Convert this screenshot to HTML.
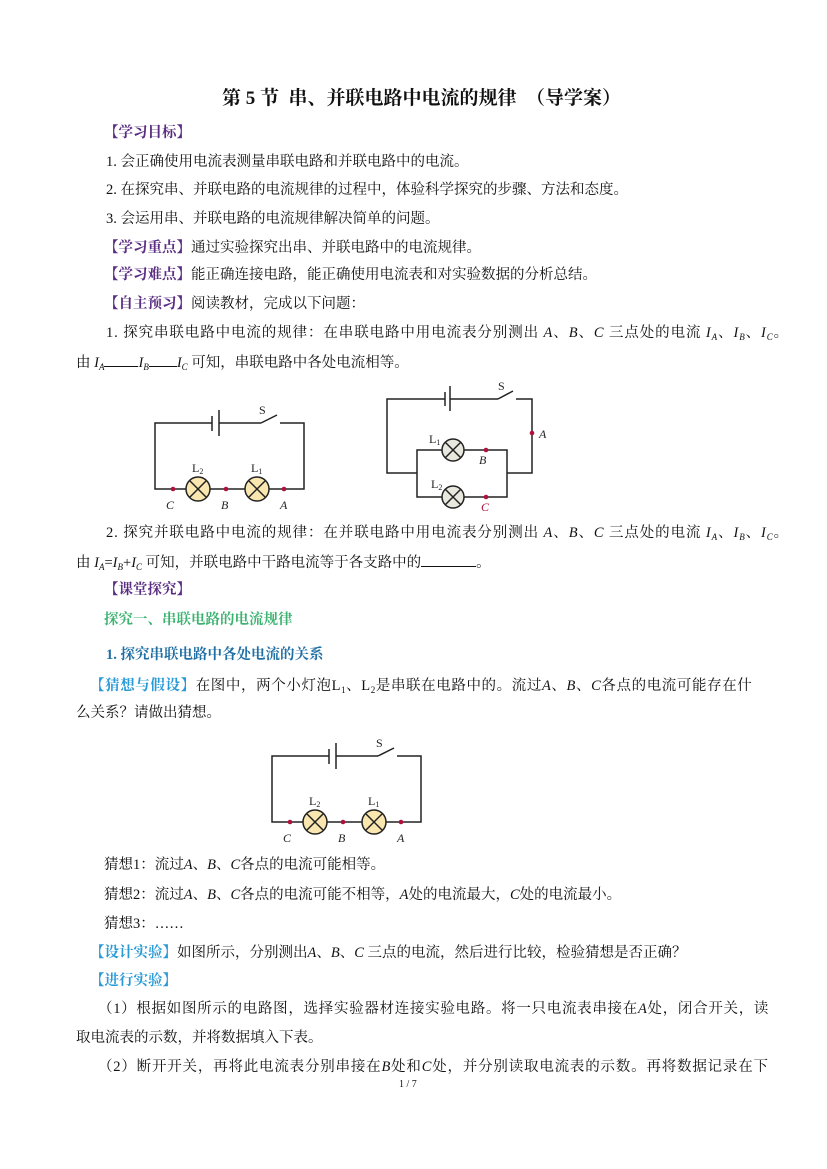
<!DOCTYPE html>
<html><head><meta charset="utf-8"><style>
html,body{margin:0;padding:0;background:#fff}
body{width:827px;height:1169px;position:relative;overflow:hidden;font-family:"Liberation Serif","Noto Serif CJK SC","Noto Sans CJK SC",serif;color:#111}
.l{position:absolute;font-size:14.5px;line-height:18px;white-space:nowrap}
.h{color:#5a2d82;font-weight:bold}
.b{color:#2a9ad6;font-weight:bold}
i{font-family:"Liberation Serif",serif}
sub{font-size:9px;vertical-align:-3px;line-height:0}
.u{display:inline-block;border-bottom:1px solid #111;height:14px}
</style></head><body>
<div class="l" style="left:222px;top:90px;font-size:19px;font-weight:bold;">第 5 节&nbsp; 串、并联电路中电流的规律 &nbsp;（导学案）</div>
<div class="l h" style="left:104px;top:124px">【学习目标】</div>
<div class="l" style="left:106px;top:153px">1. 会正确使用电流表测量串联电路和并联电路中的电流。</div>
<div class="l" style="left:106px;top:181px">2. 在探究串、并联电路的电流规律的过程中，体验科学探究的步骤、方法和态度。</div>
<div class="l" style="left:106px;top:210px">3. 会运用串、并联电路的电流规律解决简单的问题。</div>
<div class="l" style="left:104px;top:239px"><span class="h">【学习重点】</span>通过实验探究出串、并联电路中的电流规律。</div>
<div class="l" style="left:104px;top:266px"><span class="h">【学习难点】</span>能正确连接电路，能正确使用电流表和对实验数据的分析总结。</div>
<div class="l" style="left:104px;top:295px"><span class="h">【自主预习】</span>阅读教材，完成以下问题：</div>
<div class="l" style="left:106px;top:324px;letter-spacing:0.9px">1. 探究串联电路中电流的规律：在串联电路中用电流表分别测出 <i>A</i>、<i>B</i>、<i>C</i> 三点处的电流 <i>I<sub>A</sub></i>、<i>I<sub>B</sub></i>、<i>I<sub>C</sub></i>。</div>
<div class="l" style="left:76px;top:352px">由 <i>I<sub>A</sub></i><span class="u" style="width:34px"></span><i>I<sub>B</sub></i><span class="u" style="width:28px"></span><i>I<sub>C</sub></i> 可知，串联电路中各处电流相等。</div>

<svg width="827" height="1169" style="position:absolute;left:0;top:0" xmlns="http://www.w3.org/2000/svg">
<defs>
<g id="ser" fill="none" stroke="#222" stroke-width="1.5">
<polyline points="212,423 155,423 155,489 186,489"/>
<line x1="219" y1="423" x2="261" y2="423"/>
<line x1="261" y1="423" x2="277" y2="415"/>
<polyline points="280,423 304,423 304,489 269,489"/>
<line x1="210" y1="489" x2="245" y2="489"/>
<line x1="212" y1="416" x2="212" y2="431" stroke-width="1.5"/>
<line x1="219" y1="410" x2="219" y2="436" stroke-width="1.5"/>
<circle cx="198" cy="489" r="12" fill="#fae7b0"/>
<line x1="190" y1="481" x2="206" y2="497"/><line x1="206" y1="481" x2="190" y2="497"/>
<circle cx="257" cy="489" r="12" fill="#fae7b0"/>
<line x1="249" y1="481" x2="265" y2="497"/><line x1="265" y1="481" x2="249" y2="497"/>
<circle cx="173" cy="489" r="2.3" fill="#b0103a" stroke="none"/>
<circle cx="226" cy="489" r="2.3" fill="#b0103a" stroke="none"/>
<circle cx="284" cy="489" r="2.3" fill="#b0103a" stroke="none"/>
<g fill="#222" stroke="none" font-family="Liberation Serif,serif" font-size="12">
<text x="259" y="414">S</text>
<text x="192" y="472">L<tspan font-size="8" dy="2">2</tspan></text>
<text x="251" y="472">L<tspan font-size="8" dy="2">1</tspan></text>
<text x="166" y="509" font-style="italic">C</text>
<text x="221" y="509" font-style="italic">B</text>
<text x="280" y="509" font-style="italic">A</text>
</g>
</g>
</defs>
<use href="#ser"/>
<use href="#ser" transform="translate(117,333)"/>
<g fill="none" stroke="#222" stroke-width="1.5">
<polyline points="445,399 387,399 387,473 417,473"/>
<line x1="450" y1="399" x2="498" y2="399"/>
<line x1="498" y1="399" x2="513" y2="391"/>
<polyline points="516,399 532,399 532,473 507,473"/>
<line x1="445" y1="392" x2="445" y2="406"/>
<line x1="450" y1="386" x2="450" y2="411"/>
<polyline points="442,450 417,450 417,497 442,497"/>
<polyline points="464,450 507,450 507,497 464,497"/>
<circle cx="453" cy="450" r="11" fill="#e8e8de"/>
<line x1="445" y1="442" x2="461" y2="458"/><line x1="461" y1="442" x2="445" y2="458"/>
<circle cx="453" cy="497" r="11" fill="#e8e8de"/>
<line x1="445" y1="489" x2="461" y2="505"/><line x1="461" y1="489" x2="445" y2="505"/>
</g>
<g fill="#b0103a"><circle cx="486" cy="450" r="2.3"/><circle cx="486" cy="497" r="2.3"/><circle cx="532" cy="433" r="2.3"/></g>
<g fill="#222" font-family="Liberation Serif,serif" font-size="12">
<text x="498" y="390">S</text>
<text x="429" y="443">L<tspan font-size="8" dy="2">1</tspan></text>
<text x="431" y="488">L<tspan font-size="8" dy="2">2</tspan></text>
<text x="479" y="464" font-style="italic">B</text>
<text x="481" y="511" font-style="italic" fill="#b0103a">C</text>
<text x="539" y="438" font-style="italic">A</text>
</g>
</svg>

<div class="l" style="left:106px;top:524px;letter-spacing:0.9px">2. 探究并联电路中电流的规律：在并联电路中用电流表分别测出 <i>A</i>、<i>B</i>、<i>C</i> 三点处的电流 <i>I<sub>A</sub></i>、<i>I<sub>B</sub></i>、<i>I<sub>C</sub></i>。</div>
<div class="l" style="left:76px;top:552px">由 <i>I<sub>A</sub></i>=<i>I<sub>B</sub></i>+<i>I<sub>C</sub></i> 可知，并联电路中干路电流等于各支路中的<span class="u" style="width:55px"></span>。</div>
<div class="l h" style="left:104px;top:581px">【课堂探究】</div>
<div class="l" style="left:104px;top:611px;color:#3cb371;font-weight:bold">探究一、串联电路的电流规律</div>
<div class="l" style="left:106px;top:646px;color:#1f6fa5;font-weight:bold">1. 探究串联电路中各处电流的关系</div>
<div class="l" style="left:90px;top:677px;letter-spacing:0.6px"><span class="b">【猜想与假设】</span>在图中，两个小灯泡L<sub>1</sub>、L<sub>2</sub>是串联在电路中的。流过<i>A</i>、<i>B</i>、<i>C</i>各点的电流可能存在什</div>
<div class="l" style="left:76px;top:704px">么关系？请做出猜想。</div>
<div class="l" style="left:104px;top:856px">猜想1：流过<i>A</i>、<i>B</i>、<i>C</i>各点的电流可能相等。</div>
<div class="l" style="left:104px;top:886px">猜想2：流过<i>A</i>、<i>B</i>、<i>C</i>各点的电流可能不相等，<i>A</i>处的电流最大，<i>C</i>处的电流最小。</div>
<div class="l" style="left:104px;top:915px">猜想3：……</div>
<div class="l" style="left:90px;top:944px"><span class="b">【设计实验】</span>如图所示，分别测出<i>A</i>、<i>B</i>、<i>C</i> 三点的电流，然后进行比较，检验猜想是否正确？</div>
<div class="l b" style="left:90px;top:972px">【进行实验】</div>
<div class="l" style="left:98px;top:1000px;letter-spacing:0.7px">（1）根据如图所示的电路图，选择实验器材连接实验电路。将一只电流表串接在<i>A</i>处，闭合开关，读</div>
<div class="l" style="left:76px;top:1029px">取电流表的示数，并将数据填入下表。</div>
<div class="l" style="left:98px;top:1058px;letter-spacing:0.8px">（2）断开开关，再将此电流表分别串接在<i>B</i>处和<i>C</i>处，并分别读取电流表的示数。再将数据记录在下</div>
<div class="l" style="left:399px;top:1076px;font-size:10px">1 / 7</div>
</body></html>
